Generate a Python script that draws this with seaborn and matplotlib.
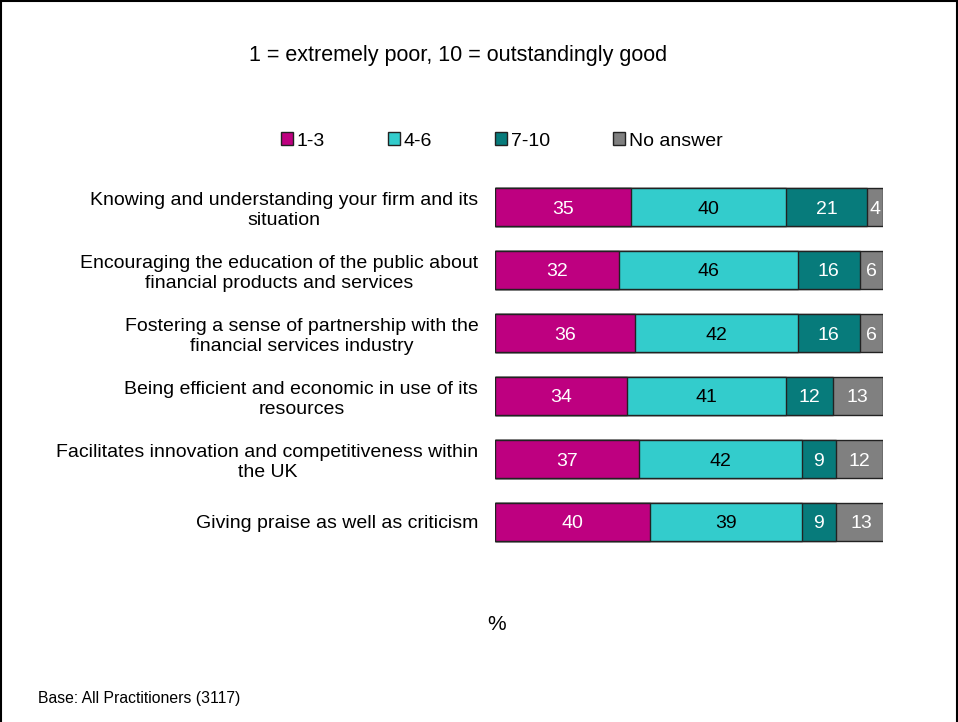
import matplotlib
matplotlib.use("Agg")
import matplotlib.pyplot as plt
import seaborn as sns
import numpy as np
import pandas as pd
from matplotlib.patches import Rectangle

sns.set_theme(style="white")
plt.rcParams["font.family"] = ["Liberation Sans", "DejaVu Sans"]
plt.rcParams["text.color"] = "black"
plt.rcParams["ytick.color"] = "black"
plt.rcParams["ytick.labelcolor"] = "black"

statements = [
    "Knowing and understanding your firm and its\nsituation",
    "Encouraging the education of the public about\nfinancial products and services",
    "Fostering a sense of partnership with the\nfinancial services industry",
    "Being efficient and economic in use of its\nresources",
    "Facilitates innovation and competitiveness within\nthe UK",
    "Giving praise as well as criticism",
]
series_names = ["1-3", "4-6", "7-10", "No answer"]
poor = [35, 32, 36, 34, 37, 40]
middle = [40, 46, 42, 41, 42, 39]
good = [21, 16, 16, 12, 9, 9]
no_answer = [4, 6, 6, 13, 12, 13]

colors = ["#BE0080", "#33CCCC", "#077B7B", "#808080"]
text_colors = ["white", "black", "white", "white"]

values = np.array([poor, middle, good, no_answer], dtype=float)
cum = np.cumsum(values, axis=0)

fig = plt.figure(figsize=(9.58, 7.22), dpi=100)
W, H = 958, 722
ax = fig.add_axes([495 / W, 1 - 553.5 / H, 388 / W, (553.5 - 175.5) / H])

# Stack by layering cumulative totals, widest first
for i in range(len(series_names) - 1, -1, -1):
    df = pd.DataFrame({"statement": statements, "total": cum[i]})
    sns.barplot(data=df, x="total", y="statement", orient="h", color=colors[i],
                saturation=1, width=0.59, edgecolor="#222222", linewidth=1.0, ax=ax)

for i in range(len(series_names)):
    for r in range(len(statements)):
        mid = cum[i, r] - values[i, r] / 2
        ax.text(mid, r, f"{int(values[i, r])}", ha="center", va="center_baseline",
                fontsize=14, color=text_colors[i])

ax.set_xlim(0, 100)
ax.set_ylim(len(statements) - 0.5, -0.5)
ax.set_xlabel("")
ax.set_ylabel("")
ax.set_xticks([])
ax.set_yticks(range(len(statements)))
ax.set_yticklabels(statements, fontsize=14, ha="right", multialignment="center",
                   linespacing=1.25, color="black")
ax.tick_params(axis="y", length=0, pad=12)
for s in ax.spines.values():
    s.set_visible(False)

# Legend
handles = [Rectangle((0, 0), 1, 1, facecolor=c, edgecolor="#222222", linewidth=1) for c in colors]
fig.legend(handles, series_names, loc="center", bbox_to_anchor=(502 / W, 1 - 141 / H),
           ncol=4, frameon=False, fontsize=14, handlelength=0.6, handleheight=0.6,
           handletextpad=0.2, columnspacing=3.25)

fig.text(458 / W, 1 - 55 / H, "1 = extremely poor, 10 = outstandingly good",
         ha="center", va="center", fontsize=15.5)
fig.text(497 / W, 1 - 625 / H, "%", ha="center", va="center", fontsize=15)
fig.text(38 / W, 1 - 699 / H, "Base: All Practitioners (3117)", ha="left",
         va="center", fontsize=11.3)

# Outer frame
fig.patches.append(Rectangle((1 / W, -0.01), 1 - 2.5 / W, 1 - 1 / H + 0.01,
                             transform=fig.transFigure, fill=False,
                             edgecolor="black", linewidth=1.5))

fig.savefig("out.png", dpi=100)
